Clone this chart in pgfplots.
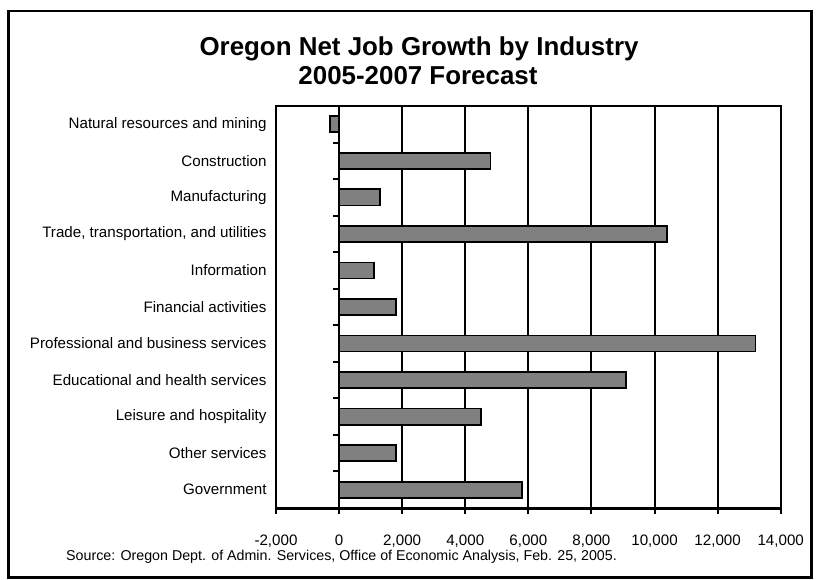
\documentclass[border=0pt]{standalone}
\usepackage{fontspec}
\setmainfont{Liberation Sans}
\usepackage{pgfplots}
\pgfplotsset{compat=1.18}
\definecolor{bargray}{HTML}{808080}
\begin{document}
\begin{tikzpicture}
\useasboundingbox (0bp,0bp) rectangle (820bp,580bp);
\draw[line width=2.6bp] (8.5bp,2.5bp) rectangle (811.5bp,569bp);
\node[anchor=base,font=\fontsize{26}{29}\selectfont\bfseries] at (419bp,524bp) {Oregon Net Job Growth by Industry};
\node[anchor=base,font=\fontsize{26}{29}\selectfont\bfseries] at (418bp,495bp) {2005-2007 Forecast};
\node[anchor=base west,inner sep=0pt,font=\fontsize{14.3}{17}\selectfont] at (66bp,19.5bp) {Source: Oregon Dept. of Admin. Services, Office of Economic Analysis, Feb. 25, 2005.};
\begin{axis}[
  at={(276bp,72bp)}, anchor=south west,
  width=504.7bp, height=402bp, scale only axis,
  xmin=-2000, xmax=14000, ymin=-0.5, ymax=10.5, y dir=reverse,
  xbar, bar width=0.44,
  axis line style={line width=2bp, black},
  xtick={-2000,0,2000,4000,6000,8000,10000,12000,14000},
  xtick pos=bottom, tick align=outside, major tick length=6bp,
  xtick style={black, line width=2bp},
  scaled x ticks=false,
  /pgf/number format/.cd, 1000 sep={,}, assume math mode=true, /pgfplots/.cd,
  xmajorgrids, grid style={black, line width=2bp},
  ytick={0,1,2,3,4,5,6,7,8,9,10},
  yticklabels={Natural resources and mining, Construction, Manufacturing, {Trade, transportation, and utilities}, Information, Financial activities, Professional and business services, Educational and health services, Leisure and hospitality, Other services, Government},
  ytick style={draw=none},
  ticklabel style={font=\fontsize{15.2}{18}\selectfont},
  xticklabel style={anchor=base, inner sep=0pt, yshift=-31bp},
  clip=false,
]
\addplot[fill=bargray, draw=black, line width=1.8bp] coordinates {
 (-300,0) (4800,1) (1300,2) (10400,3) (1100,4) (1800,5) (13200,6) (9100,7) (4500,8) (1800,9) (5800,10)};
\draw[line width=3bp] (axis cs:-2000,10.5) -- (axis cs:14000,10.5);
\draw[line width=2bp]
  (axis cs:0,0.5) -- (axis cs:-180,0.5)
  (axis cs:0,1.5) -- (axis cs:-180,1.5)
  (axis cs:0,2.5) -- (axis cs:-180,2.5)
  (axis cs:0,3.5) -- (axis cs:-180,3.5)
  (axis cs:0,4.5) -- (axis cs:-180,4.5)
  (axis cs:0,5.5) -- (axis cs:-180,5.5)
  (axis cs:0,6.5) -- (axis cs:-180,6.5)
  (axis cs:0,7.5) -- (axis cs:-180,7.5)
  (axis cs:0,8.5) -- (axis cs:-180,8.5)
  (axis cs:0,9.5) -- (axis cs:-180,9.5);
\end{axis}
\end{tikzpicture}
\end{document}
